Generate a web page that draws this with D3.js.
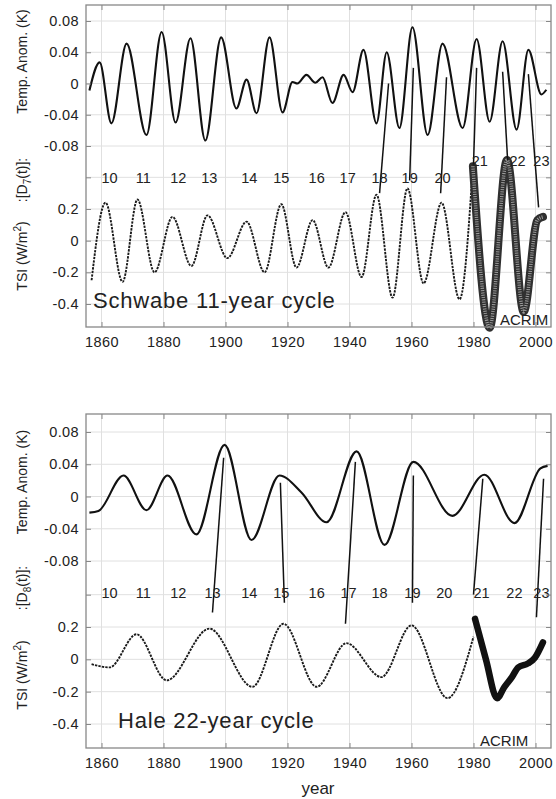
<!DOCTYPE html>
<html lang="en">
<head>
<meta charset="utf-8">
<title>Schwabe / Hale cycles</title>
<style>
  body { margin: 0; background: #fff; }
  svg text { font-family: "Liberation Sans", Arial, sans-serif; fill: #222; }
</style>
</head>
<body>
<svg id="chart" width="556" height="799"></svg>
<script src="https://d3js.org/d3.v7.min.js"></script>
<script>
// ---- data ----
var xTicks = [1860, 1880, 1900, 1920, 1940, 1960, 1980, 2000];
var tempTicks = [-0.08, -0.04, 0, 0.04, 0.08];
var tsiTicks = [-0.4, -0.2, 0, 0.2];
var cycleNums = [10, 11, 12, 13, 14, 15, 16, 17, 18, 19, 20, 21, 22, 23];

// Schwabe 11-year cycle (top)
var schwabeTemp = [[1856.1,-0.009],[1859.4,0.027],[1863.2,-0.051],[1868.1,0.051],[1874.5,-0.066],
  [1879.4,0.066],[1883.9,-0.050],[1888.7,0.058],[1893.5,-0.073],[1898.6,0.059],[1903.5,-0.032],
  [1906.8,0.005],[1910.0,-0.038],[1914.2,0.059],[1918.4,-0.037],[1921.6,0.002],[1923.2,0.000],
  [1926.1,0.011],[1929.0,0.001],[1931.3,0.008],[1934.5,-0.025],[1938.1,0.011],[1941.0,-0.011],
  [1944.5,0.043],[1948.7,-0.051],[1952.0,0.040],[1956.1,-0.057],[1960.3,0.072],[1965.2,-0.066],
  [1970.0,0.051],[1976.5,-0.057],[1981.0,0.057],[1985.2,-0.049],[1989.4,0.054],[1993.9,-0.059],
  [1997.7,0.043],[2001.9,-0.014],[2003.5,-0.008]];
var schwabeTSI = [[1856.8,-0.25],[1861.3,0.24],[1866.8,-0.26],[1871.6,0.26],[1877.1,-0.20],
  [1882.9,0.15],[1889.0,-0.16],[1894.2,0.16],[1900.6,-0.11],[1906.8,0.12],[1912.6,-0.20],
  [1918.0,0.23],[1922.9,-0.17],[1928.1,0.13],[1933.2,-0.17],[1938.7,0.18],[1943.9,-0.23],
  [1948.7,0.29],[1953.9,-0.36],[1958.7,0.33],[1963.9,-0.27],[1969.7,0.24],[1975.5,-0.37],
  [1979.8,0.47]];
var schwabeACRIM = [[1979.8,0.47],[1985.2,-0.55],[1990.8,0.51],[1996.2,-0.45],[2000.6,0.13],[2002.4,0.15]];
// [temp year, temp value, tsi year, tsi value]
var schwabeLinks = [[1952.6,0.000,1949.7,0.30],[1960.6,0.020,1959.4,0.38],[1971.3,0.008,1969.4,0.30],
  [1981.0,0.020,1980.0,0.48],[1989.4,0.015,1991.0,0.51],[1997.7,0.012,2001.0,0.21]];
var schwabeCycleYears = [1862.6,1873.5,1884.8,1894.8,1907.7,1918.0,1929.4,1939.4,1949.7,1959.4,1970.0,1982.0,1994.2,2001.9];

// Hale 22-year cycle (bottom)
var haleTemp = [[1856.1,-0.020],[1859.0,-0.018],[1867.1,0.026],[1874.5,-0.017],[1881.3,0.026],
  [1890.6,-0.047],[1899.7,0.064],[1908.4,-0.054],[1917.4,0.026],[1924.5,0.005],[1932.6,-0.032],
  [1942.3,0.056],[1951.3,-0.060],[1960.6,0.043],[1973.2,-0.024],[1983.5,0.027],[1993.2,-0.033],
  [2001.6,0.035],[2003.9,0.038]];
var haleTSI = [[1856.8,-0.03],[1862.6,-0.05],[1871.3,0.155],[1881.0,-0.13],[1894.8,0.19],
  [1908.7,-0.17],[1918.7,0.22],[1929.4,-0.17],[1939.0,0.10],[1950.3,-0.11],[1960.0,0.21],
  [1971.6,-0.24],[1980.0,0.14]];
var haleACRIM = [[1980.5,0.25],[1984.0,0.0],[1987.6,-0.24],[1990.0,-0.17],[1992.4,-0.11],
  [1994.4,-0.05],[1997.6,-0.025],[1999.8,0.01],[2002.4,0.105]];
var haleLinks = [[1899.4,0.048,1895.8,0.29],[1917.7,0.017,1919.0,0.35],[1941.9,0.043,1938.7,0.22],
  [1960.6,0.026,1960.3,0.35],[1983.0,0.022,1980.0,0.40],[2002.6,0.022,2000.3,0.26]];
var haleCycleYears = [1862.6,1873.5,1884.8,1895.8,1907.7,1918.0,1929.4,1939.7,1949.7,1960.3,1970.6,1982.6,1993.2,2001.9];

// ---- layout ----
var svg = d3.select('#chart');
var L = 86, R = 551;
var x = d3.scaleLinear().domain([1855, 2005]).range([L, R]);

var panels = [
  { top: 5, bottom: 327, tRange: [146, 21], sRange: [304, 209],
    temp: schwabeTemp, tsi: schwabeTSI, acrim: schwabeACRIM, links: schwabeLinks,
    cycles: schwabeCycleYears, rowY: 183, rowHiY: 166, raise: true,
    title: 'Schwabe 11-year cycle', titleX: 93, titleY: 308,
    acrimX: 500, acrimY: 325, rings: true, sub: '7',
    labY: [61.5, 180, 256] },
  { top: 414, bottom: 748, tRange: [561, 432], sRange: [724, 627],
    temp: haleTemp, tsi: haleTSI, acrim: haleACRIM, links: haleLinks,
    cycles: haleCycleYears, rowY: 598, rowHiY: 598, raise: false,
    title: 'Hale 22-year cycle', titleX: 118, titleY: 728,
    acrimX: 480, acrimY: 746, rings: false, sub: '8',
    labY: [482, 588, 675] }
];

function fmtT(d) { return d === 0 ? '0' : d.toFixed(2); }
function fmtS(d) { return d === 0 ? '0' : (d > 0.3 ? '' : d.toFixed(1)); }

panels.forEach(function(p) {
  var yT = d3.scaleLinear().domain([-0.08, 0.08]).range(p.tRange);
  var yS = d3.scaleLinear().domain([-0.4, 0.2]).range(p.sRange);
  var g = svg.append('g');
  var sTicks = tsiTicks.concat([0.4]);

  // grid
  var grid = g.append('g').attr('stroke', '#e0e0e0').attr('stroke-width', 1);
  grid.selectAll('.gx').data(xTicks).join('line')
      .attr('x1', x).attr('x2', x).attr('y1', p.top).attr('y2', p.bottom);
  grid.selectAll('.gt').data(tempTicks).join('line')
      .attr('x1', L).attr('x2', R).attr('y1', yT).attr('y2', yT);
  grid.selectAll('.gs').data(sTicks).join('line')
      .attr('x1', L).attr('x2', R).attr('y1', yS).attr('y2', yS);

  // curves
  var lineT = d3.line().x(function(d) { return x(d[0]); }).y(function(d) { return yT(d[1]); }).curve(d3.curveMonotoneX);
  var lineS = d3.line().x(function(d) { return x(d[0]); }).y(function(d) { return yS(d[1]); }).curve(d3.curveMonotoneX);

  g.append('path').datum(p.temp).attr('d', lineT)
      .attr('fill', 'none').attr('stroke', '#111').attr('stroke-width', 2.1);
  g.append('path').datum(p.tsi).attr('d', lineS)
      .attr('fill', 'none').attr('stroke', '#1a1a1a').attr('stroke-width', 1.9)
      .attr('stroke-dasharray', '2.4,1.1');

  if (p.rings) {
    g.append('path').datum(p.acrim).attr('d', lineS)
        .attr('fill', 'none').attr('stroke', '#303030').attr('stroke-width', 8)
        .attr('stroke-linejoin', 'round').attr('stroke-linecap', 'round');
    g.append('path').datum(p.acrim).attr('d', lineS)
        .attr('fill', 'none').attr('stroke', '#9c9c9c').attr('stroke-width', 3.5)
        .attr('stroke-dasharray', '1,1.3');
  } else {
    g.append('path').datum(p.acrim).attr('d', lineS)
        .attr('fill', 'none').attr('stroke', '#111').attr('stroke-width', 6.5)
        .attr('stroke-linejoin', 'round').attr('stroke-linecap', 'round');
  }

  // connector lines
  g.selectAll('.lk').data(p.links).join('line')
      .attr('x1', function(d) { return x(d[0]); }).attr('y1', function(d) { return yT(d[1]); })
      .attr('x2', function(d) { return x(d[2]); }).attr('y2', function(d) { return yS(d[3]); })
      .attr('stroke', '#111').attr('stroke-width', 1.5);

  // cycle numbers
  g.selectAll('.cy').data(cycleNums).join('text')
      .attr('x', function(d, i) { return x(p.cycles[i]); })
      .attr('y', function(d) { return (p.raise && d >= 21) ? p.rowHiY : p.rowY; })
      .attr('text-anchor', 'middle').attr('font-size', 14.5)
      .text(function(d) { return d; });

  // axes
  function style(a) {
    a.select('.domain').remove();
    a.selectAll('line').attr('stroke', '#888');
    a.selectAll('text').attr('font-size', 14.5).attr('letter-spacing', '0.4px')
        .attr('font-family', '"Liberation Sans", Arial, sans-serif').attr('fill', '#222');
  }
  g.append('g').attr('transform', 'translate(' + L + ',0)')
      .call(d3.axisLeft(yT).tickValues(tempTicks).tickFormat(fmtT).tickSize(-5).tickPadding(7)).call(style);
  g.append('g').attr('transform', 'translate(' + L + ',0)')
      .call(d3.axisLeft(yS).tickValues(sTicks).tickFormat(fmtS).tickSize(-5).tickPadding(7)).call(style);
  g.append('g').attr('transform', 'translate(' + R + ',0)')
      .call(d3.axisRight(yT).tickValues(tempTicks).tickFormat('').tickSize(-5)).call(style);
  g.append('g').attr('transform', 'translate(' + R + ',0)')
      .call(d3.axisRight(yS).tickValues(sTicks).tickFormat('').tickSize(-5)).call(style);
  g.append('g').attr('transform', 'translate(0,' + p.bottom + ')')
      .call(d3.axisBottom(x).tickValues(xTicks).tickFormat(d3.format('d')).tickSize(-5).tickPadding(10)).call(style);
  g.append('g').attr('transform', 'translate(0,' + p.top + ')')
      .call(d3.axisTop(x).tickValues(xTicks).tickFormat('').tickSize(-5)).call(style);

  g.append('rect').attr('x', L).attr('y', p.top).attr('width', R - L).attr('height', p.bottom - p.top)
      .attr('fill', 'none').attr('stroke', '#888').attr('stroke-width', 1.3);

  // titles
  g.append('text').attr('x', p.titleX).attr('y', p.titleY)
      .attr('font-size', 22).attr('letter-spacing', '0.8px').text(p.title);
  g.append('text').attr('x', p.acrimX).attr('y', p.acrimY)
      .attr('font-size', 15).text('ACRIM');

  // rotated y labels
  var yl = [
    function(t) { t.text('Temp. Anom. (K)'); },
    function(t) {
      t.append('tspan').text(':[D');
      t.append('tspan').attr('font-size', 10).attr('dy', 4).text(p.sub);
      t.append('tspan').attr('dy', -4).text('(t)]:');
    },
    function(t) {
      t.append('tspan').text('TSI (W/m');
      t.append('tspan').attr('font-size', 10).attr('dy', -6).text('2');
      t.append('tspan').attr('dy', 6).text(')');
    }
  ];
  yl.forEach(function(fn, i) {
    var t = g.append('text')
        .attr('transform', 'translate(27,' + p.labY[i] + ') rotate(-90)')
        .attr('text-anchor', 'middle').attr('font-size', 14);
    fn(t);
  });
});

svg.append('text').attr('x', 318).attr('y', 794).attr('text-anchor', 'middle')
    .attr('font-size', 17).text('year');
</script>
</body>
</html>
